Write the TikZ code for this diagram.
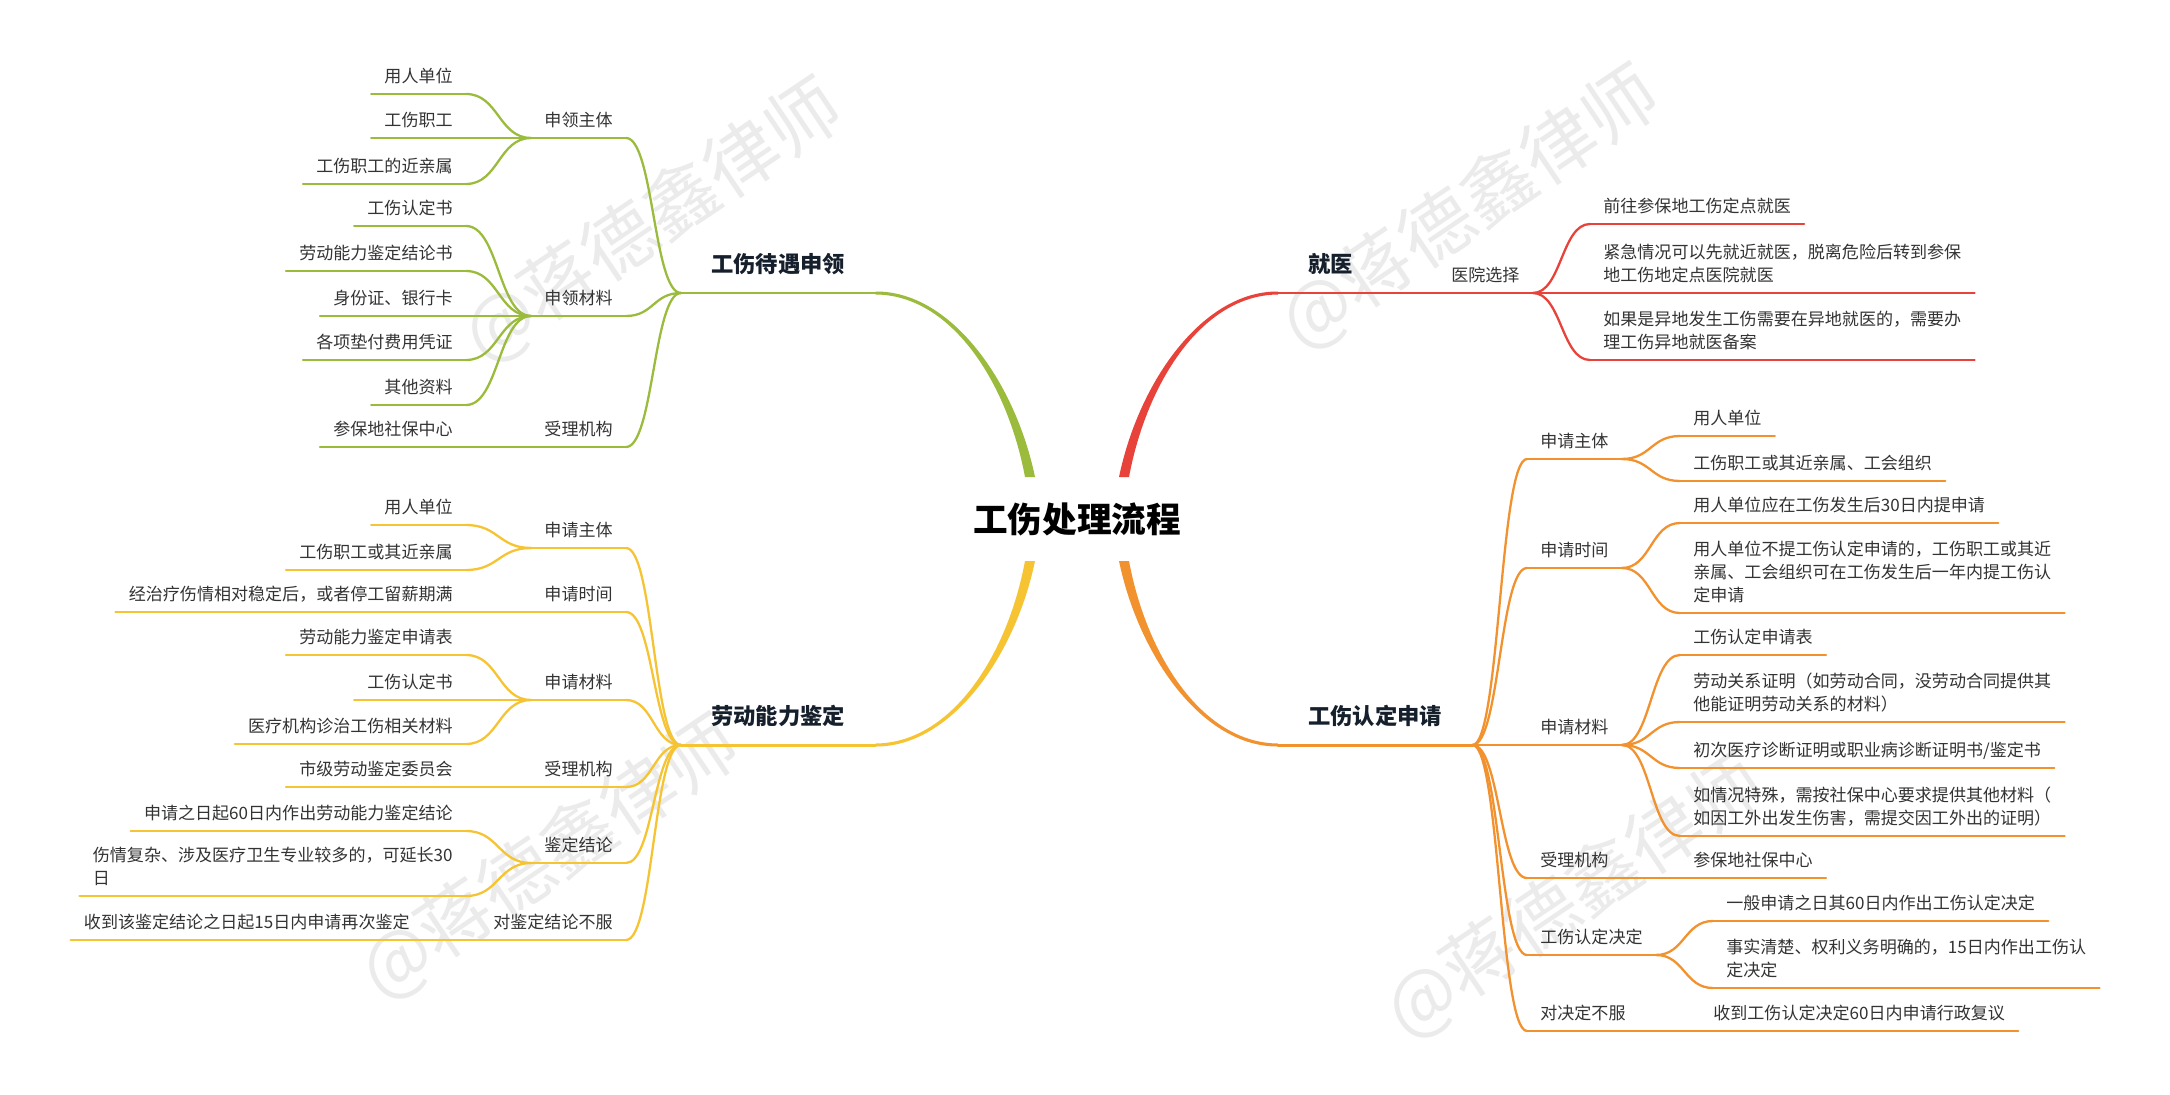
\documentclass[tikz,border=0pt]{standalone}
\usepackage{fontspec}
\setmainfont{Noto Sans CJK SC}
\usetikzlibrary{calc}

\definecolor{cG}{HTML}{9BBB3C}
\definecolor{cY}{HTML}{F6C433}
\definecolor{cR}{HTML}{E8433A}
\definecolor{cO}{HTML}{F2922F}
\definecolor{txt}{HTML}{333333}
\definecolor{ink}{HTML}{16202C}

\tikzset{
    ul/.style={draw=black, line width=1.3pt, line cap=round},
    tul/.style={ul, line width=1.7pt},
    lf/.style={font=\fontsize{9.7}{13}\selectfont, text=txt, inner xsep=0.26cm,
        inner ysep=2.6pt, align=left, execute at begin node=\strut,
        execute at end node=\strut,
        append after command={(\tikzlastnode.south west) edge[ul] (\tikzlastnode.south east)}},
    lfl/.style={lf, anchor=south east},
    lfr/.style={lf, anchor=south west},
    topic/.style={font=\fontsize{12.7}{16}\bfseries\selectfont, text=ink, inner xsep=0.6cm,
        inner ysep=6.9pt, execute at begin node=\strut,
        append after command={(\tikzlastnode.south west) edge[tul] (\tikzlastnode.south east)}},
    sbend/.style={to path={let \p1=(\tikztostart), \p2=(\tikztotarget) in
        .. controls ({(\x1+\x2)/2},\y1) and ({(\x1+\x2)/2},\y2) .. (\tikztotarget)}},
    wmark/.style={font=\fontsize{42}{50}\selectfont, text=black!8, rotate=34},
}

\begin{document}
\begin{tikzpicture}[x=0.02cm, y=-0.02cm]
    \useasboundingbox (0,0) rectangle (2170,1095);
    \fill[white] (0,0) rectangle (2170,1095);

    % watermarks
    \node[wmark] (wm1) at (653,221) {@蒋德鑫律师};
    \node[wmark] (wm2) at (1470,208) {@蒋德鑫律师};
    \node[wmark] (wm3) at (550,858) {@蒋德鑫律师};
    \node[wmark] (wm4) at (1575,897) {@蒋德鑫律师};

    % root
    \node[font=\fontsize{19.7}{24}\bfseries\selectfont, text=black] (ctr) at (1077,519) {工伤处理流程};
    \coordinate (gs) at (1030,477);
    \coordinate (rs) at (1124,477);
    \coordinate (ys) at (1030,561);
    \coordinate (os) at (1124,561);

    % benefits claim
    \begin{scope}[ul/.style={draw=cG, line width=1.3pt, line cap=round}]
        \node[topic, anchor=south west] (gt) at (681,293) {工伤待遇申领};
        \fill[cG] ($(gs)+(-5,0)$) .. controls ($(gs)+(-23,-96)$) and ($(gt.south east)+(75,2)$) .. ($(gt.south east)+(0,1.5)$)
            -- ($(gt.south east)+(0,-1.5)$) .. controls ($(gt.south east)+(75,-2)$) and ($(gs)+(-15,-96)$) .. ($(gs)+(5,0)$) -- cycle;
        \node[lfl] (g1) at (626,138) {申领主体};
        \node[lfl] (g2) at (626,316) {申领材料};
        \node[lfl] (g3) at (626,447) {受理机构};
        \node[lfl] (g11) at (466,94) {用人单位};
        \node[lfl] (g12) at (466,138) {工伤职工};
        \node[lfl] (g13) at (466,184) {工伤职工的近亲属};
        \node[lfl] (g21) at (466,226) {工伤认定书};
        \node[lfl] (g22) at (466,271) {劳动能力鉴定结论书};
        \node[lfl] (g23) at (466,316) {身份证、银行卡};
        \node[lfl] (g24) at (466,360) {各项垫付费用凭证};
        \node[lfl] (g25) at (466,405) {其他资料};
        \node[lfl] (g31) at (466,447) {参保地社保中心};
        \draw[ul] (g1.south east) to[sbend] (gt.south west);
        \draw[ul] (g2.south east) to[sbend] (gt.south west);
        \draw[ul] (g3.south east) to[sbend] (gt.south west);
        \draw[ul] (g11.south east) to[sbend] (g1.south west);
        \draw[ul] (g12.south east) to[sbend] (g1.south west);
        \draw[ul] (g13.south east) to[sbend] (g1.south west);
        \draw[ul] (g21.south east) to[sbend] (g2.south west);
        \draw[ul] (g22.south east) to[sbend] (g2.south west);
        \draw[ul] (g23.south east) to[sbend] (g2.south west);
        \draw[ul] (g24.south east) to[sbend] (g2.south west);
        \draw[ul] (g25.south east) to[sbend] (g2.south west);
        \draw[ul] (g31.south east) to[sbend] (g3.south west);
    \end{scope}

    % work ability appraisal
    \begin{scope}[ul/.style={draw=cY, line width=1.3pt, line cap=round}]
        \node[topic, anchor=south west] (yt) at (681,745) {劳动能力鉴定};
        \fill[cY] ($(ys)+(-5,0)$) .. controls ($(ys)+(-23,96)$) and ($(yt.south east)+(75,-2)$) .. ($(yt.south east)+(0,-1.5)$)
            -- ($(yt.south east)+(0,1.5)$) .. controls ($(yt.south east)+(75,2)$) and ($(ys)+(-15,96)$) .. ($(ys)+(5,0)$) -- cycle;
        \node[lfl] (y1) at (626,548) {申请主体};
        \node[lfl] (y2) at (626,612) {申请时间};
        \node[lfl] (y3) at (626,700) {申请材料};
        \node[lfl] (y4) at (626,787) {受理机构};
        \node[lfl] (y5) at (626,863) {鉴定结论};
        \node[lfl] (y6) at (626,940) {对鉴定结论不服};
        \node[lfl] (y11) at (466,525) {用人单位};
        \node[lfl] (y12) at (466,570) {工伤职工或其近亲属};
        \node[lfl] (y21) at (466,612) {经治疗伤情相对稳定后，或者停工留薪期满};
        \node[lfl] (y31) at (466,655) {劳动能力鉴定申请表};
        \node[lfl] (y32) at (466,700) {工伤认定书};
        \node[lfl] (y33) at (466,744) {医疗机构诊治工伤相关材料};
        \node[lfl] (y41) at (466,787) {市级劳动鉴定委员会};
        \node[lfl] (y51) at (466,831) {申请之日起60日内作出劳动能力鉴定结论};
        \node[lfl] (y52) at (466,896) {伤情复杂、涉及医疗卫生专业较多的，可延长30\\日};
        \node[lfl] (y61) at (423,940) {收到该鉴定结论之日起15日内申请再次鉴定};
        \draw[ul] (y1.south east) to[sbend] (yt.south west);
        \draw[ul] (y2.south east) to[sbend] (yt.south west);
        \draw[ul] (y3.south east) to[sbend] (yt.south west);
        \draw[ul] (y4.south east) to[sbend] (yt.south west);
        \draw[ul] (y5.south east) to[sbend] (yt.south west);
        \draw[ul] (y6.south east) to[sbend] (yt.south west);
        \draw[ul] (y11.south east) to[sbend] (y1.south west);
        \draw[ul] (y12.south east) to[sbend] (y1.south west);
        \draw[ul] (y21.south east) to[sbend] (y2.south west);
        \draw[ul] (y31.south east) to[sbend] (y3.south west);
        \draw[ul] (y32.south east) to[sbend] (y3.south west);
        \draw[ul] (y33.south east) to[sbend] (y3.south west);
        \draw[ul] (y41.south east) to[sbend] (y4.south west);
        \draw[ul] (y51.south east) to[sbend] (y5.south west);
        \draw[ul] (y52.south east) to[sbend] (y5.south west);
        \draw[ul] (y61.south east) to[sbend] (y6.south west);
    \end{scope}

    % medical treatment
    \begin{scope}[ul/.style={draw=cR, line width=1.3pt, line cap=round}]
        \node[topic, anchor=south west] (rt) at (1278,293) {就医};
        \fill[cR] ($(rs)+(5,0)$) .. controls ($(rs)+(23,-96)$) and ($(rt.south west)+(-75,2)$) .. ($(rt.south west)+(0,1.5)$)
            -- ($(rt.south west)+(0,-1.5)$) .. controls ($(rt.south west)+(-75,-2)$) and ($(rs)+(15,-96)$) .. ($(rs)+(-5,0)$) -- cycle;
        \node[lfr] (r1) at (1438,293) {医院选择};
        \node[lfr] (r11) at (1590,224) {前往参保地工伤定点就医};
        \node[lfr] (r12) at (1590,293) {紧急情况可以先就近就医，脱离危险后转到参保\\地工伤地定点医院就医};
        \node[lfr] (r13) at (1590,360) {如果是异地发生工伤需要在异地就医的，需要办\\理工伤异地就医备案};
        \draw[ul] (rt.south east) to[sbend] (r1.south west);
        \draw[ul] (r1.south east) to[sbend] (r11.south west);
        \draw[ul] (r1.south east) to[sbend] (r12.south west);
        \draw[ul] (r1.south east) to[sbend] (r13.south west);
    \end{scope}

    % injury recognition
    \begin{scope}[ul/.style={draw=cO, line width=1.3pt, line cap=round}]
        \node[topic, anchor=south west] (ot) at (1278,745) {工伤认定申请};
        \fill[cO] ($(os)+(5,0)$) .. controls ($(os)+(23,96)$) and ($(ot.south west)+(-75,-2)$) .. ($(ot.south west)+(0,-1.5)$)
            -- ($(ot.south west)+(0,1.5)$) .. controls ($(ot.south west)+(-75,2)$) and ($(os)+(15,96)$) .. ($(os)+(-5,0)$) -- cycle;
        \node[lfr] (o1) at (1527,459) {申请主体};
        \node[lfr] (o2) at (1527,568) {申请时间};
        \node[lfr] (o3) at (1527,745) {申请材料};
        \node[lfr] (o4) at (1527,878) {受理机构};
        \node[lfr] (o5) at (1527,955) {工伤认定决定};
        \node[lfr] (o6) at (1527,1031) {对决定不服};
        \node[lfr] (o11) at (1680,436) {用人单位};
        \node[lfr] (o12) at (1680,481) {工伤职工或其近亲属、工会组织};
        \node[lfr] (o21) at (1680,523) {用人单位应在工伤发生后30日内提申请};
        \node[lfr] (o22) at (1680,613) {用人单位不提工伤认定申请的，工伤职工或其近\\亲属、工会组织可在工伤发生后一年内提工伤认\\定申请};
        \node[lfr] (o31) at (1680,655) {工伤认定申请表};
        \node[lfr] (o32) at (1680,722) {劳动关系证明（如劳动合同，没劳动合同提供其\\他能证明劳动关系的材料）};
        \node[lfr] (o33) at (1680,768) {初次医疗诊断证明或职业病诊断证明书/鉴定书};
        \node[lfr] (o34) at (1680,836) {如情况特殊，需按社保中心要求提供其他材料（\\如因工外出发生伤害，需提交因工外出的证明）};
        \node[lfr] (o41) at (1680,878) {参保地社保中心};
        \node[lfr] (o51) at (1713,921) {一般申请之日其60日内作出工伤认定决定};
        \node[lfr] (o52) at (1713,988) {事实清楚、权利义务明确的，15日内作出工伤认\\定决定};
        \node[lfr] (o61) at (1700,1031) {收到工伤认定决定60日内申请行政复议};
        \draw[ul] (ot.south east) to[sbend] (o1.south west);
        \draw[ul] (ot.south east) to[sbend] (o2.south west);
        \draw[ul] (ot.south east) to[sbend] (o3.south west);
        \draw[ul] (ot.south east) to[sbend] (o4.south west);
        \draw[ul] (ot.south east) to[sbend] (o5.south west);
        \draw[ul] (ot.south east) to[sbend] (o6.south west);
        \draw[ul] (o1.south east) to[sbend] (o11.south west);
        \draw[ul] (o1.south east) to[sbend] (o12.south west);
        \draw[ul] (o2.south east) to[sbend] (o21.south west);
        \draw[ul] (o2.south east) to[sbend] (o22.south west);
        \draw[ul] (o3.south east) to[sbend] (o31.south west);
        \draw[ul] (o3.south east) to[sbend] (o32.south west);
        \draw[ul] (o3.south east) to[sbend] (o33.south west);
        \draw[ul] (o3.south east) to[sbend] (o34.south west);
        \draw[ul] (o4.south east) to[sbend] (o41.south west);
        \draw[ul] (o5.south east) to[sbend] (o51.south west);
        \draw[ul] (o5.south east) to[sbend] (o52.south west);
        \draw[ul] (o6.south east) to[sbend] (o61.south west);
    \end{scope}
\end{tikzpicture}
\end{document}
